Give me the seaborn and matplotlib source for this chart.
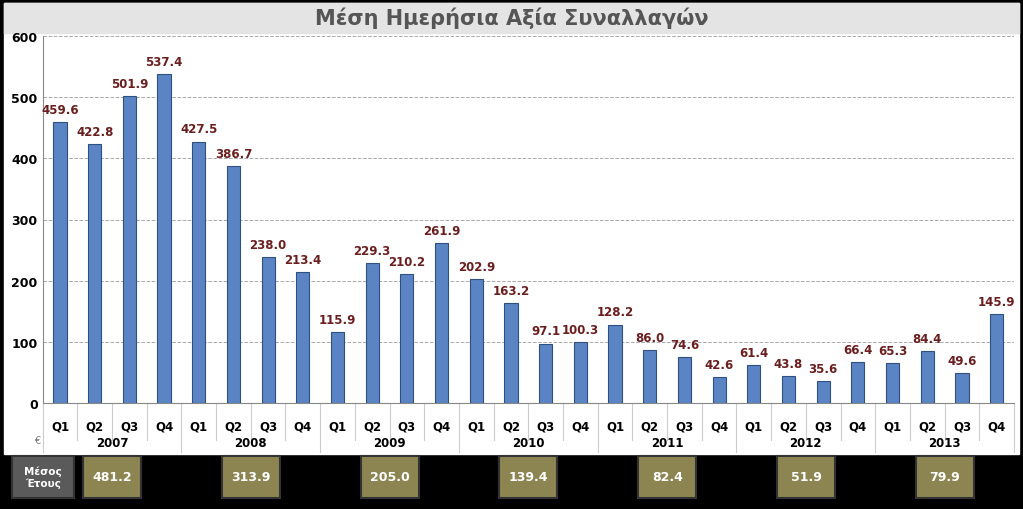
import matplotlib
matplotlib.use("Agg")
import matplotlib.pyplot as plt
import seaborn as sns
import pandas as pd
from matplotlib.patches import Rectangle

# Data
years = ["2007", "2008", "2009", "2010", "2011", "2012", "2013"]
quarters = ["Q1", "Q2", "Q3", "Q4"]
values = [459.6, 422.8, 501.9, 537.4,
          427.5, 386.7, 238.0, 213.4,
          115.9, 229.3, 210.2, 261.9,
          202.9, 163.2, 97.1, 100.3,
          128.2, 86.0, 74.6, 42.6,
          61.4, 43.8, 35.6, 66.4,
          65.3, 84.4, 49.6, 145.9]
year_avg = [481.2, 313.9, 205.0, 139.4, 82.4, 51.9, 79.9]

W, H = 1023, 510
df = pd.DataFrame({"pos": range(len(values)), "value": values})

fig = plt.figure(figsize=(W / 100, H / 100), dpi=100)
fig.patch.set_facecolor("black")
# panel backgrounds
fig.add_artist(Rectangle((4 / W, (H - 455) / H), 1015 / W, 451 / H,
                         transform=fig.transFigure, color="white", zorder=-10))
fig.add_artist(Rectangle((4 / W, (H - 34) / H), 1015 / W, 30 / H,
                         transform=fig.transFigure, color="#e4e4e4", zorder=-9))

ax = fig.add_axes([42.6 / W, (H - 404) / H, (1014 - 42.6) / W, 367 / H])
ax.set_zorder(5)
ax.patch.set_alpha(0)
sns.barplot(data=df, x="pos", y="value", color="#5b84c4", width=0.38, saturation=1,
            edgecolor="#2f4f80", linewidth=0.8, ax=ax, zorder=3)
ax.set_xlim(-0.5, len(values) - 0.5)
ax.set_ylim(0, 600)
ax.set_yticks(range(0, 601, 100))
ax.tick_params(axis="y", labelsize=9, length=0)
for t in ax.get_yticklabels():
    t.set_fontweight("bold")
ax.set_xticks([])
ax.set_xlabel("")
ax.set_ylabel("")
ax.yaxis.grid(True, color="#aaaaaa", linestyle="--", linewidth=0.7)
ax.set_axisbelow(True)
for s in ["top", "right"]:
    ax.spines[s].set_visible(False)
ax.spines["left"].set_color("#888888")
ax.spines["bottom"].set_color("#888888")

for i, v in enumerate(values):
    ax.text(i, v + 10, f"{v:.1f}", ha="center", va="bottom", fontsize=8.5,
            fontweight="bold", color="#6b1e1e")

# category labels
for i in range(len(values)):
    ax.text(i, -38, quarters[i % 4], ha="center", va="center", fontsize=8.5,
            fontweight="bold", clip_on=False)
for i in range(len(values) + 1):
    top = -60 if i % 4 else -80
    ax.plot([i - 0.5, i - 0.5], [0, top], color="#cccccc", lw=0.8, clip_on=False)
for j, y in enumerate(years):
    ax.text(j * 4 + 1.5, -64, y, ha="center", va="center", fontsize=8.5,
            fontweight="bold", clip_on=False)
ax.text(-0.65, -60, "€", ha="center", va="center", fontsize=7, color="#777777",
        clip_on=False)

# bottom boxes
def box(xc, w, label, face, fs):
    fig.add_artist(Rectangle(((xc - w / 2) / W, (H - 499) / H), w / W, 42 / H,
                             transform=fig.transFigure, facecolor=face,
                             edgecolor="#333333", lw=1.5, zorder=10))
    fig.text(xc / W, (H - 478) / H, label, ha="center", va="center", color="white",
             fontsize=fs, fontweight="bold", zorder=11)

box(43, 62, "Μέσος\nΈτους", "#5a5a5a", 7.5)
for j, a in enumerate(year_avg):
    xc = 42.6 + (j * 4 + 2) * 34.7
    box(xc, 58, f"{a:.1f}", "#8c8552", 9)

fig.text(0.5, (H - 18) / H, "Μέση Ημερήσια Αξία Συναλλαγών", ha="center", va="center",
         fontsize=15, fontweight="bold", color="#555555")

fig.savefig("out.png", dpi=100, facecolor=fig.get_facecolor())
